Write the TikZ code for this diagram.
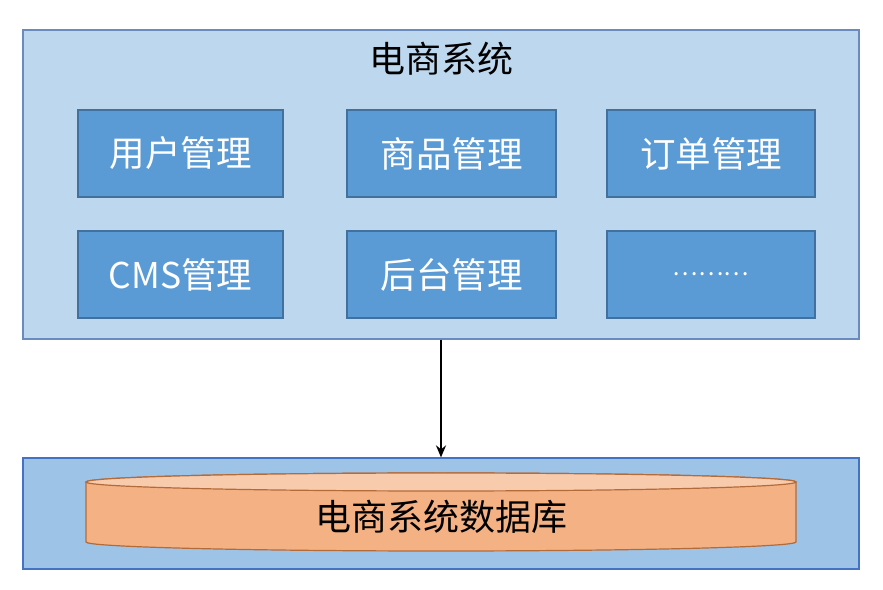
\documentclass[tikz,border=0pt]{standalone}
\usepackage{fontspec}
\setmainfont{Noto Sans CJK SC}
\usetikzlibrary{arrows.meta}
\definecolor{outerfill}{HTML}{BDD7EE}
\definecolor{outerdraw}{HTML}{6A8BBE}
\definecolor{innerfill}{HTML}{5B9BD5}
\definecolor{innerdraw}{HTML}{41719C}
\definecolor{dbboxfill}{HTML}{9DC3E6}
\definecolor{dbboxdraw}{HTML}{4472C4}
\definecolor{cylbody}{HTML}{F4B183}
\definecolor{cyltop}{HTML}{F8CBAD}
\definecolor{cyldraw}{HTML}{B46B3A}
\tikzset{
  panel/.style={draw=outerdraw, fill=outerfill, line width=1.2pt, inner sep=0pt},
  module/.style={draw=innerdraw, fill=innerfill, line width=1.2pt, inner sep=0pt,
    text=white, font=\fontsize{35.5}{38}\selectfont},
  label/.style={inner sep=0pt, font=\fontsize{36}{38}\selectfont, text=black},
  conn/.style={line width=2.6pt, -{Stealth[length=12pt,width=10pt]}}
}
\begin{document}
\begin{tikzpicture}[x=1pt,y=1pt]
\useasboundingbox (0,0) rectangle (883,589);
% top panel
\node[panel, minimum width=836pt, minimum height=309pt] (sys) at (441,404.5) {};
\node[label] (title) at (441,530) {电商系统};
% modules
\node[module, minimum width=205pt, minimum height=87pt] (user) at (180.5,435.5) {用户管理};
\node[module, minimum width=209pt, minimum height=87pt] (goods) at (451.5,435.5) {商品管理};
\node[module, minimum width=208pt, minimum height=87pt] (order) at (711,435.5) {订单管理};
\node[module, minimum width=205pt, minimum height=87pt] (cms) at (180.5,314.5) {CMS管理};
\node[module, minimum width=209pt, minimum height=87pt] (admin) at (451.5,314.5) {后台管理};
\node[module, minimum width=208pt, minimum height=87pt, font=\fontsize{24}{26}\selectfont] (more) at (711,314.5) {………};
% bottom panel
\node[draw=dbboxdraw, fill=dbboxfill, line width=1.2pt, inner sep=0pt,
  minimum width=836pt, minimum height=111pt] (dbpanel) at (441,75.5) {};
% cylinder
\fill[cylbody, draw=cyldraw, line width=1.2pt]
  (86,107) -- (86,47) arc[start angle=180, end angle=360, x radius=355, y radius=9]
  -- (796,107) arc[start angle=0, end angle=180, x radius=355, y radius=9] -- cycle;
\fill[cyltop, draw=cyldraw, line width=1.2pt] (441,107) ellipse[x radius=355, y radius=9];
\node[label] (db) at (441,72) {电商系统数据库};
% connector
\draw[conn] (sys.south) -- (dbpanel.north);
\end{tikzpicture}
\end{document}
